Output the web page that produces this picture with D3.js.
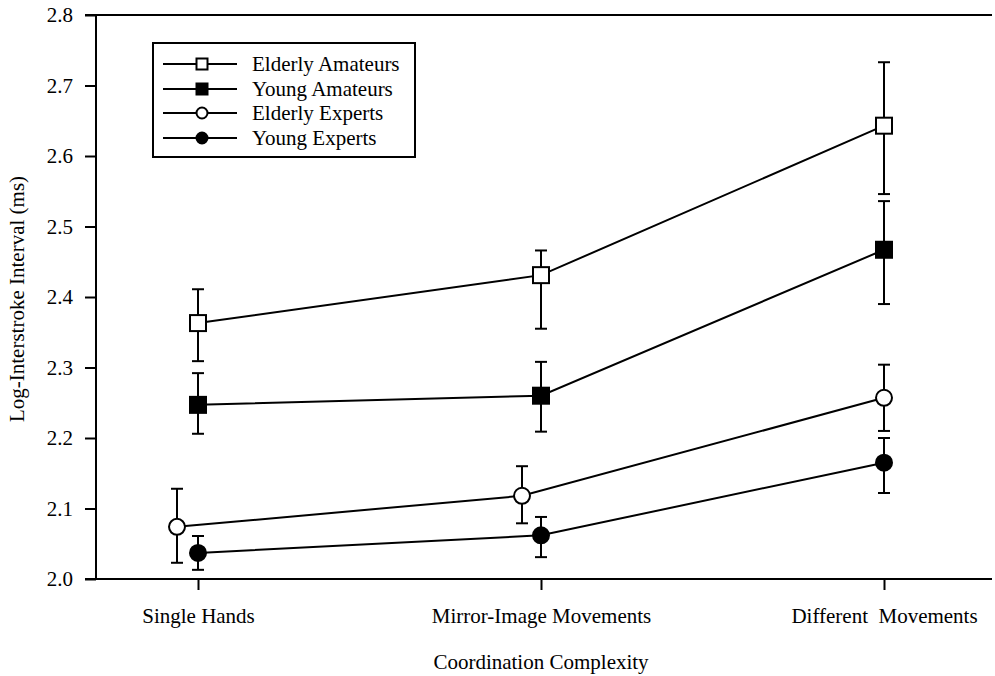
<!DOCTYPE html>
<html>
<head>
<meta charset="utf-8">
<script src="https://cdn.jsdelivr.net/npm/d3@7"></script>
<style>
  html, body { margin: 0; padding: 0; background: #fff; }
  svg { display: block; }
  svg text { font-family: "Liberation Serif", "Times New Roman", serif !important; fill: #000; }
</style>
</head>
<body>
<svg id="chart" width="995" height="676"></svg>
<script>
// Coordination complexity conditions
const categories = ["Single Hands", "Mirror-Image Movements", "Different  Movements"];
const yTicks = [2.0, 2.1, 2.2, 2.3, 2.4, 2.5, 2.6, 2.7, 2.8];

// Group names (legend order)
const groups = ["Elderly Amateurs", "Young Amateurs", "Elderly Experts", "Young Experts"];

// Mean log-interstroke interval per condition
const elderlyAmateurs = [2.363, 2.431, 2.643];
const youngAmateurs   = [2.247, 2.260, 2.467];
const elderlyExperts  = [2.074, 2.118, 2.257];
const youngExperts    = [2.037, 2.062, 2.165];

// Error bar limits (lower / upper)
const elderlyAmateursLo = [2.309, 2.355, 2.546];
const elderlyAmateursHi = [2.411, 2.466, 2.733];
const youngAmateursLo   = [2.206, 2.209, 2.390];
const youngAmateursHi   = [2.292, 2.308, 2.536];
const elderlyExpertsLo  = [2.023, 2.079, 2.210];
const elderlyExpertsHi  = [2.128, 2.160, 2.304];
const youngExpertsLo    = [2.013, 2.031, 2.122];
const youngExpertsHi    = [2.061, 2.088, 2.200];

// Horizontal dodge (px) used so overlapping bars stay readable
const dodge = [[0, 0, 0], [0, 0, 0], [-21, -19, 0], [0, 0, 0]];

const seriesMeans = [elderlyAmateurs, youngAmateurs, elderlyExperts, youngExperts];
const seriesLo = [elderlyAmateursLo, youngAmateursLo, elderlyExpertsLo, youngExpertsLo];
const seriesHi = [elderlyAmateursHi, youngAmateursHi, elderlyExpertsHi, youngExpertsHi];
const markerShape = ["square", "square", "circle", "circle"];
const markerFill = ["#fff", "#000", "#fff", "#000"];

const FONT = "Liberation Serif, Times New Roman, serif";
const FS = "21px";

const svg = d3.select("#chart");

const x = d3.scalePoint().domain(categories).range([198, 884]).padding(0);
const y = d3.scaleLinear().domain([2.0, 2.8]).range([579, 15]);

const axisLeftX = 96;
const rightEdge = 992;

// Y axis
const yAxis = svg.append("g")
  .attr("transform", `translate(${axisLeftX},0)`)
  .call(d3.axisLeft(y).tickValues(yTicks).tickFormat(d3.format(".1f")).tickSize(11).tickPadding(12));
yAxis.attr("font-family", FONT).attr("font-size", FS);
yAxis.select(".domain").attr("stroke", "#000").attr("stroke-width", 2).attr("d", `M0,${y(2.8)}V${y(2.0)}`);
yAxis.selectAll(".tick line").attr("stroke", "#000").attr("stroke-width", 2);
yAxis.selectAll(".tick text").attr("fill", "#000");

// X axis (bottom line extends to the right edge)
const xAxis = svg.append("g")
  .attr("transform", `translate(0,${y(2.0)})`)
  .call(d3.axisBottom(x).tickSize(11).tickPadding(18));
xAxis.attr("font-family", FONT).attr("font-size", FS);
xAxis.select(".domain").attr("stroke", "#000").attr("stroke-width", 2).attr("d", `M${axisLeftX - 11},0H${rightEdge}`);
xAxis.selectAll(".tick line").attr("stroke", "#000").attr("stroke-width", 2);
xAxis.selectAll(".tick text").attr("fill", "#000").style("white-space", "pre");

// Top frame line
svg.append("line")
  .attr("x1", axisLeftX - 11).attr("x2", rightEdge)
  .attr("y1", y(2.8)).attr("y2", y(2.8))
  .attr("stroke", "#000").attr("stroke-width", 2);

// Axis titles
svg.append("text")
  .attr("x", 541).attr("y", 669)
  .attr("text-anchor", "middle")
  .attr("font-family", FONT).style("font-size", FS)
  .text("Coordination Complexity");

svg.append("text")
  .attr("transform", `translate(24,${(y(2.0) + y(2.8)) / 2 + 2}) rotate(-90)`)
  .attr("text-anchor", "middle")
  .attr("font-family", FONT).style("font-size", FS)
  .text("Log-Interstroke Interval (ms)");

const plot = svg.append("g");
const capHalf = 6;

// Error bars
seriesMeans.forEach((means, s) => {
  means.forEach((m, i) => {
    const cx = x(categories[i]) + dodge[s][i];
    const g = plot.append("g").attr("stroke", "#000").attr("stroke-width", 2);
    g.append("line").attr("x1", cx).attr("x2", cx).attr("y1", y(seriesLo[s][i])).attr("y2", y(seriesHi[s][i]));
    g.append("line").attr("x1", cx - capHalf).attr("x2", cx + capHalf).attr("y1", y(seriesLo[s][i])).attr("y2", y(seriesLo[s][i]));
    g.append("line").attr("x1", cx - capHalf).attr("x2", cx + capHalf).attr("y1", y(seriesHi[s][i])).attr("y2", y(seriesHi[s][i]));
  });
});

// Connecting lines
const line = d3.line()
  .x(d => d.x)
  .y(d => y(d.v));
seriesMeans.forEach((means, s) => {
  const pts = means.map((v, i) => ({ x: x(categories[i]) + dodge[s][i], v }));
  plot.append("path")
    .attr("d", line(pts))
    .attr("fill", "none")
    .attr("stroke", "#000")
    .attr("stroke-width", 2);
});

// Markers
function drawMarker(g, shape, fill, cx, cy, size) {
  if (shape === "square") {
    g.append("rect")
      .attr("x", cx - size / 2).attr("y", cy - size / 2)
      .attr("width", size).attr("height", size)
      .attr("fill", fill).attr("stroke", "#000").attr("stroke-width", 2);
  } else {
    g.append("circle")
      .attr("cx", cx).attr("cy", cy).attr("r", size / 2)
      .attr("fill", fill).attr("stroke", "#000").attr("stroke-width", 2);
  }
}
seriesMeans.forEach((means, s) => {
  means.forEach((m, i) => {
    drawMarker(plot, markerShape[s], markerFill[s], x(categories[i]) + dodge[s][i], y(m), 16);
  });
});

// Legend
const legend = svg.append("g");
legend.append("rect")
  .attr("x", 153).attr("y", 43).attr("width", 262).attr("height", 114)
  .attr("fill", "#fff").attr("stroke", "#000").attr("stroke-width", 2);
const rowY = [64, 89, 113, 138];
groups.forEach((name, s) => {
  const ly = rowY[s];
  legend.append("line")
    .attr("x1", 163).attr("x2", 237).attr("y1", ly).attr("y2", ly)
    .attr("stroke", "#000").attr("stroke-width", 2);
  drawMarker(legend, markerShape[s], markerFill[s], 202, ly, 11);
  legend.append("text")
    .attr("x", 252).attr("y", ly).attr("dy", "0.33em")
    .attr("font-family", FONT).style("font-size", FS)
    .text(name);
});
</script>
</body>
</html>
